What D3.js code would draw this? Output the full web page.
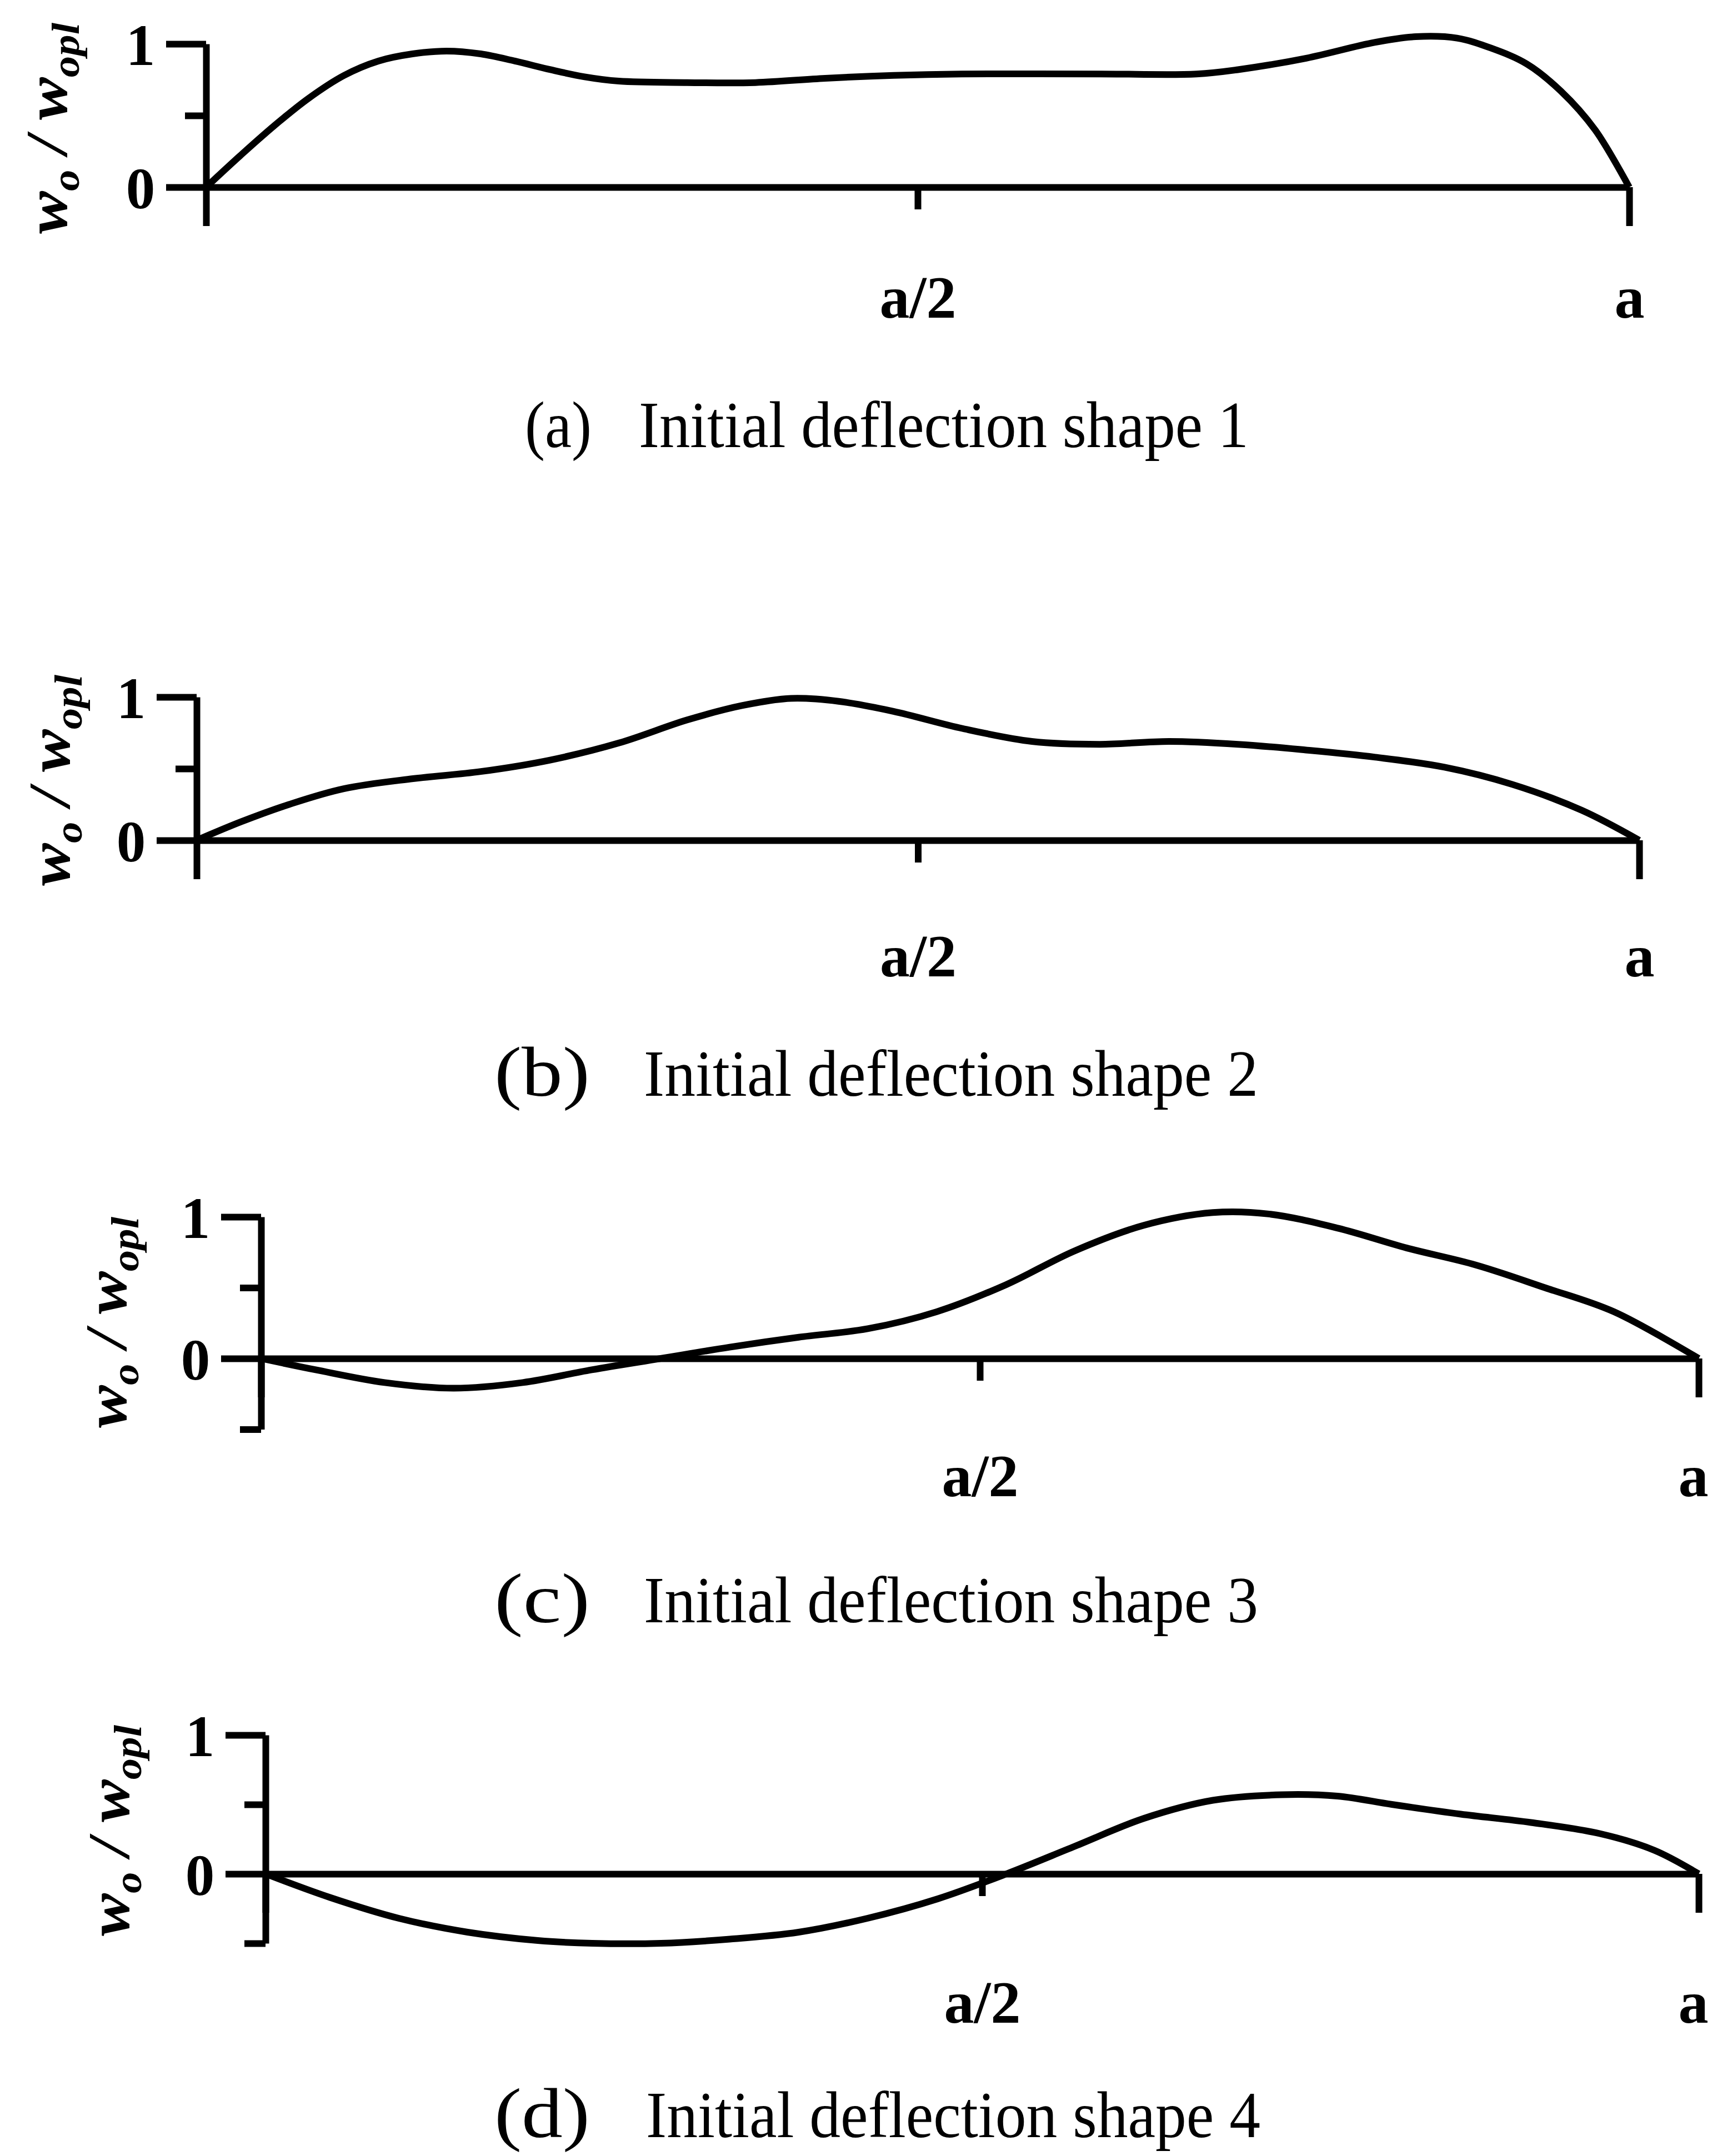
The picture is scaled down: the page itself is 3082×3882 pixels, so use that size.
<!DOCTYPE html>
<html lang="en">
<head>
<meta charset="UTF-8">
<title>Initial deflection shapes</title>
<style>
body { margin: 0; background: #fff; }
svg text { font-family: "Liberation Serif", "Times New Roman", serif; fill: #000; }
</style>
</head>
<body>
<div id="chart"></div>
<script src="https://d3js.org/d3.v7.min.js"></script>
<script>

var shape1X = [0, 0.024, 0.048, 0.072, 0.097, 0.121, 0.145, 0.169, 0.193, 0.217, 0.242, 0.266, 0.290, 0.338, 0.386, 0.435, 0.483, 0.531, 0.628, 0.696, 0.725, 0.773, 0.821, 0.850, 0.879, 0.903, 0.928, 0.952, 0.976, 1];
var shape1W = [0, 0.22, 0.43, 0.62, 0.78, 0.88, 0.93, 0.95, 0.93, 0.88, 0.82, 0.77, 0.74, 0.73, 0.73, 0.76, 0.78, 0.79, 0.79, 0.79, 0.82, 0.90, 1.01, 1.05, 1.04, 0.97, 0.86, 0.67, 0.40, 0];

var shape2X = [0, 0.031, 0.064, 0.102, 0.150, 0.197, 0.245, 0.293, 0.340, 0.378, 0.412, 0.445, 0.483, 0.531, 0.579, 0.626, 0.674, 0.722, 0.769, 0.817, 0.865, 0.912, 0.960, 1];
var shape2W = [0, 0.13, 0.25, 0.36, 0.43, 0.48, 0.56, 0.68, 0.84, 0.94, 0.99, 0.97, 0.90, 0.78, 0.69, 0.67, 0.69, 0.67, 0.63, 0.58, 0.51, 0.39, 0.21, 0];

var shape3X = [0, 0.038, 0.086, 0.134, 0.182, 0.230, 0.278, 0.326, 0.374, 0.422, 0.470, 0.518, 0.566, 0.614, 0.662, 0.701, 0.749, 0.797, 0.845, 0.893, 0.941, 1];
var shape3W = [0, -0.08, -0.17, -0.21, -0.17, -0.08, 0, 0.08, 0.15, 0.21, 0.33, 0.52, 0.76, 0.94, 1.03, 1.02, 0.92, 0.78, 0.66, 0.50, 0.33, 0];

var shape4X = [0, 0.045, 0.093, 0.141, 0.190, 0.228, 0.276, 0.324, 0.372, 0.420, 0.469, 0.517, 0.565, 0.613, 0.661, 0.709, 0.748, 0.786, 0.834, 0.883, 0.931, 0.969, 1];
var shape4W = [0, -0.17, -0.32, -0.42, -0.48, -0.50, -0.50, -0.47, -0.42, -0.32, -0.18, 0, 0.20, 0.40, 0.53, 0.57, 0.56, 0.50, 0.43, 0.37, 0.29, 0.17, 0];

// axis ticks and labels
var yTicksPositive = [1, 0.5, 0];
var yTicksSigned = [1, 0.5, 0, -0.5];
var yMajorTicks = [0, 1];
var xTicks = [0, 0.5, 1];
var xTickLabels = ["", "a/2", "a"];

var captionTags = ["(a)", "(b)", "(c)", "(d)"];
var captionTexts = ["Initial deflection shape 1", "Initial deflection shape 2",
                    "Initial deflection shape 3", "Initial deflection shape 4"];

// page layout of the four panels
var panels = [
  {xs: shape1X, ws: shape1W, ticks: yTicksPositive, ymin: 0,
   left: 371, right: 2933, zero: 337, one: 79,
   labX: 120, labY: 231, xLabDy: 235,
   tagX: 945, tagSize: 118, tagLen: 120, capX: 1150, capLen: 1098, capY: 805},
  {xs: shape2X, ws: shape2W, ticks: yTicksPositive, ymin: 0,
   left: 354, right: 2951, zero: 1513, one: 1255,
   labX: 125, labY: 1405, xLabDy: 245,
   tagX: 890, tagSize: 126, tagLen: 172, capX: 1159, capLen: 1106, capY: 1973},
  {xs: shape3X, ws: shape3W, ticks: yTicksSigned, ymin: -0.5,
   left: 470, right: 3058, zero: 2446, one: 2191,
   labX: 227, labY: 2381, xLabDy: 248,
   tagX: 890, tagSize: 126, tagLen: 172, capX: 1159, capLen: 1106, capY: 2921},
  {xs: shape4X, ws: shape4W, ticks: yTicksSigned, ymin: -0.5,
   left: 478, right: 3058, zero: 3374, one: 3124,
   labX: 232, labY: 3296, xLabDy: 268,
   tagX: 890, tagSize: 126, tagLen: 172, capX: 1163, capLen: 1106, capY: 3848}
];

var W = 3082, H = 3882, LW = 12;

var svg = d3.select("#chart")
  .append("svg")
    .attr("width", W)
    .attr("height", H);

svg.append("rect").attr("width", W).attr("height", H).attr("fill", "#fff");

panels.forEach(function(p, k) {

  var x = d3.scaleLinear().domain([0, 1]).range([p.left, p.right]);
  var y = d3.scaleLinear().domain([0, 1]).range([p.zero, p.one]);

  // x axis: ticks hang below the zero line
  var xAxis = svg.append("g")
    .attr("transform", "translate(0," + p.zero + ")")
    .call(d3.axisBottom(x)
      .tickValues(xTicks)
      .tickSize(70)
      .tickSizeOuter(0)
      .tickFormat(function(d, i) { return xTickLabels[i]; }));
  xAxis.attr("font-family", null).attr("font-size", null);
  xAxis.select(".domain").attr("stroke", "#000").attr("stroke-width", LW);
  xAxis.selectAll(".tick line")
    .attr("stroke", "#000")
    .attr("stroke-width", LW)
    .attr("y2", function(d) { return d === 0.5 ? 40 : 70; });
  xAxis.selectAll(".tick text")
    .attr("y", p.xLabDy)
    .attr("dy", 0)
    // keep the last label inside the page
    .attr("x", function(d) { return Math.min(0, W - 34 - x(d)); })
    .attr("font-size", 108)
    .attr("font-weight", "bold");

  // y axis
  var yAxis = svg.append("g")
    .attr("transform", "translate(" + p.left + ",0)")
    .call(d3.axisLeft(y.copy().domain([p.ymin, 1]).range([y(p.ymin), y(1)]))
      .tickValues(p.ticks)
      .tickSize(72)
      .tickSizeOuter(0)
      .tickFormat(function(d) { return yMajorTicks.indexOf(d) >= 0 ? String(d) : ""; }));
  yAxis.attr("font-family", null).attr("font-size", null);
  yAxis.select(".domain").attr("stroke", "#000").attr("stroke-width", LW);
  yAxis.selectAll(".tick line")
    .attr("stroke", "#000")
    .attr("stroke-width", LW)
    .attr("x2", function(d) { return yMajorTicks.indexOf(d) >= 0 ? -72 : -38; });
  yAxis.selectAll(".tick text")
    .attr("x", -118)
    .attr("dy", "0.36em")
    .attr("text-anchor", "middle")
    .attr("font-size", 105)
    .attr("font-weight", "bold");

  // y axis title  w_o / w_opl
  var lab = svg.append("text")
    .attr("transform", "translate(" + p.labX + "," + p.labY + ") rotate(-90)")
    .attr("text-anchor", "middle")
    .attr("font-style", "italic")
    .attr("font-weight", "bold")
    .attr("font-size", 105)
    .attr("textLength", 380)
    .attr("lengthAdjust", "spacingAndGlyphs");
  lab.append("tspan").text("w");
  lab.append("tspan").attr("font-size", 70).attr("dy", 22).text("o");
  lab.append("tspan").attr("font-size", 105).attr("dy", -22).text(" / w");
  lab.append("tspan").attr("font-size", 70).attr("dy", 22).text("opl");

  // deflection curve
  var pts = p.xs.map(function(v, i) { return [v, p.ws[i]]; });
  svg.append("path")
    .datum(pts)
    .attr("fill", "none")
    .attr("stroke", "#000")
    .attr("stroke-width", LW)
    .attr("stroke-linejoin", "round")
    .attr("d", d3.line()
      .curve(d3.curveCatmullRom.alpha(0.5))
      .x(function(d) { return x(d[0]); })
      .y(function(d) { return y(d[1]); }));

  // caption
  svg.append("text")
    .attr("x", p.tagX)
    .attr("y", p.capY)
    .attr("font-size", p.tagSize)
    .attr("textLength", p.tagLen)
    .attr("lengthAdjust", "spacingAndGlyphs")
    .text(captionTags[k]);
  svg.append("text")
    .attr("x", p.capX)
    .attr("y", p.capY)
    .attr("font-size", 118)
    .attr("textLength", p.capLen)
    .attr("lengthAdjust", "spacingAndGlyphs")
    .text(captionTexts[k]);
});

</script>
</body>
</html>
